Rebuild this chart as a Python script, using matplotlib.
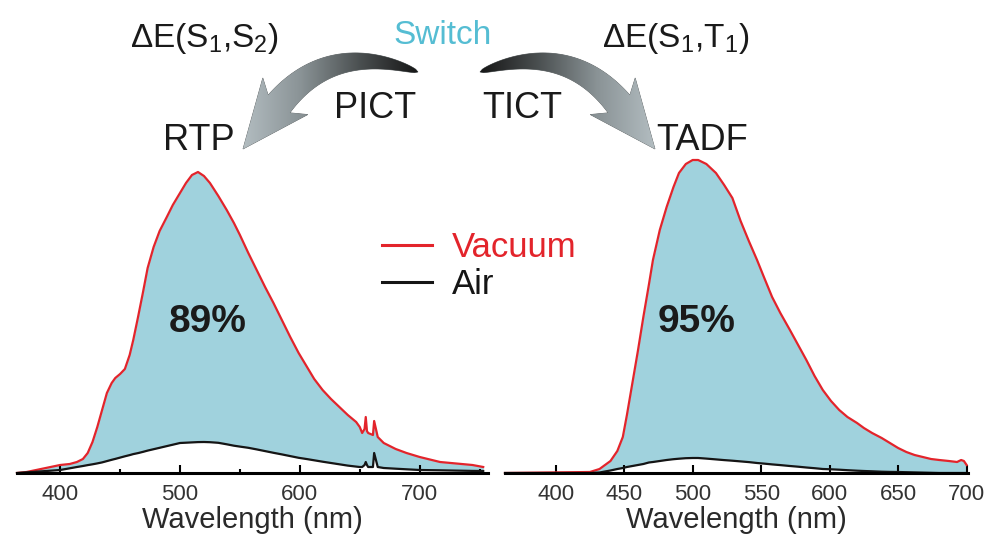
import numpy as np
import matplotlib.pyplot as plt
from matplotlib.patches import Polygon
from matplotlib.colors import LinearSegmentedColormap
from matplotlib.ticker import MultipleLocator

plt.rcParams['font.family'] = ['Liberation Sans', 'DejaVu Sans']
plt.rcParams['mathtext.default'] = 'regular'

# RTP panel (left): wavelength (nm) and intensity (a.u.)
wl_rtp = [364, 372, 380, 392, 400, 408, 414, 419, 423, 427, 431, 435, 439, 443, 446, 450,
          454, 458, 461, 465, 469, 473, 478, 483, 489, 494, 500, 505, 510, 515, 520, 525,
          532, 539, 545, 550, 557, 564, 571, 578, 585, 592, 599, 606, 612, 619, 626, 633,
          640, 647, 650, 652, 654, 655, 656, 657, 661, 662, 665, 670, 680, 689, 700, 717,
          735, 744, 753]
vac_rtp = [0, 1, 3, 6, 8, 9, 11, 14, 20, 31, 46, 63, 80, 90, 95, 99,
           104, 118, 133, 156, 180, 205, 226, 242, 256, 268, 280, 290, 298, 301, 297, 290,
           277, 263, 250, 238, 220, 203, 186, 170, 153, 136, 120, 106, 94, 83, 74, 66,
           58, 51, 46, 40, 44, 56, 42, 40, 38, 52, 36, 30, 24, 20, 16, 11,
           9, 8, 6]
air_rtp = [0, 0.7, 1.3, 2.3, 3, 4.7, 6, 7, 7.9, 8.7, 9.6, 10.6, 11.9, 13.2, 14.1, 15.4,
           16.7, 17.9, 18.9, 19.9, 21.1, 22.4, 23.8, 25.2, 26.9, 28.3, 30, 30.3, 30.6, 30.9, 31, 30.8,
           30.2, 28.7, 27.3, 26.4, 25.2, 23.6, 21.9, 20.2, 18.6, 16.9, 15.2, 13.9, 12.7, 11.3, 10, 8.7,
           7.4, 6.4, 6, 6, 8, 11, 8, 6, 6, 20, 6, 5, 4.3, 3.7, 3, 2.7,
           2.3, 2.1, 2]

# TADF panel (right)
wl_tadf = [363, 425, 432, 440, 445, 449, 452, 456, 460, 464, 468, 471, 476, 481, 486, 490,
           495, 500, 504, 510, 517, 523, 529, 535, 541, 547, 552, 558, 564, 571, 577, 583,
           589, 595, 601, 607, 613, 620, 625, 631, 638, 644, 650, 656, 662, 668, 674, 680,
           687, 693, 696, 698, 700]
vac_tadf = [0, 1, 4, 12, 22, 36, 58, 90, 122, 156, 188, 213, 243, 266, 286, 300,
            309, 313, 313, 309, 300, 288, 275, 252, 232, 213, 196, 176, 160, 143, 128, 113,
            97, 83, 72, 63, 56, 50, 45, 40, 35, 30, 25, 21, 18, 16, 14, 13,
            12, 11, 13, 12, 8]
air_tadf = [0, 0, 0.5, 2.5, 4, 5, 6, 7, 8, 9, 10.5, 11, 12, 13, 13.8, 14.3,
            14.8, 15, 15, 14.4, 13.6, 12.9, 12.3, 11.6, 10.9, 10, 9.4, 8.6, 7.9, 7, 6.3, 5.5,
            4.8, 4, 3.7, 3.3, 2.8, 2.3, 2, 1.7, 1.3, 1.1, 1, 0.8, 0.6, 0.4, 0.2, 0,
            0, 0, 0, 0, 0]

ticks_rtp = [400, 500, 600, 700]
ticks_tadf = [400, 450, 500, 550, 600, 650, 700]

W, H = 991, 537
fig = plt.figure(figsize=(W / 100, H / 100), dpi=100)

red = '#e3242b'
black = '#151515'
fill = '#a0d2dd'


def panel(rect, wl, vac, air, xlim, ticks, minor):
    ax = fig.add_axes(rect)
    ax.fill_between(wl, air, vac, color=fill, lw=0)
    l1, = ax.plot(wl, vac, color=red, lw=1.6, label='Vacuum', clip_on=False)
    l2, = ax.plot(wl, air, color=black, lw=1.6, label='Air', clip_on=False)
    ax.set_xlim(*xlim)
    ax.set_ylim(0, 320)
    for s in ['left', 'right', 'top']:
        ax.spines[s].set_visible(False)
    ax.spines['bottom'].set_linewidth(2.2)
    ax.set_yticks([])
    ax.set_xticks(ticks)
    if minor:
        ax.xaxis.set_minor_locator(MultipleLocator(minor))
    ax.tick_params(axis='x', which='major', direction='in', length=6, width=1.5,
                   labelsize=16, labelcolor='#333333', pad=8)
    ax.tick_params(axis='x', which='minor', direction='in', length=3, width=1.5)
    ax.set_xlabel('Wavelength (nm)', fontsize=21, color='#2a2a2a', labelpad=1)
    ax.patch.set_alpha(0)
    return ax, l1, l2


ax1, l1, l2 = panel([17 / W, 64 / H, 471 / W, 320 / H], wl_rtp, vac_rtp, air_rtp,
                    (364, 757), ticks_rtp, 50)
ax2, _, _ = panel([505 / W, 64 / H, 463 / W, 320 / H], wl_tadf, vac_tadf, air_tadf,
                  (363, 701), ticks_tadf, None)

leg = ax1.legend(handles=[l1, l2], loc='upper left', bbox_to_anchor=(382 / W, 1 - 231 / H),
                 bbox_transform=fig.transFigure, frameon=False, fontsize=25,
                 handlelength=1.45, handletextpad=0.55, labelspacing=0.12,
                 borderpad=0, borderaxespad=0)
for t, c in zip(leg.get_texts(), [red, black]):
    t.set_color(c)
for h in leg.legend_handles:
    h.set_linewidth(2.2)

# overlay in pixel coordinates for the scheme on top
ov = fig.add_axes([0, 0, 1, 1], zorder=5)
ov.axis('off')
ov.patch.set_alpha(0)

cmap = LinearSegmentedColormap.from_list('arr', ['#b4bec2', '#8a9396', '#4a4f50', '#141414'])


def curved_arrow(tail, ctrl, base, tip, body_w, head_hw, flip):
    p0, c, p2, tp = (np.array(v, float) for v in (tail, ctrl, base, tip))
    t = np.linspace(0, 1, 60)[:, None]
    pts = (1 - t) ** 2 * p0 + 2 * (1 - t) * t * c + t ** 2 * p2
    tan = 2 * (1 - t) * (c - p0) + 2 * t * (p2 - c)
    tan /= np.linalg.norm(tan, axis=1, keepdims=True)
    nrm = np.column_stack([-tan[:, 1], tan[:, 0]])
    w = body_w / 2 * np.sqrt(t[:, 0])
    side_a = pts + nrm * w[:, None]
    side_b = pts - nrm * w[:, None]
    back = p2 - tan[-1] * 10
    barb_a = back + nrm[-1] * head_hw
    barb_b = back - nrm[-1] * head_hw
    poly = np.vstack([side_a, barb_a, tp, barb_b, side_b[::-1]])
    patch = Polygon(poly, closed=True, facecolor='#9ea8ab', edgecolor='#5a5f60',
                    lw=0.5, zorder=1.5)
    ov.add_patch(patch)
    grad = np.linspace(0, 1, 256)[None, :]
    if flip:
        grad = grad[:, ::-1]
    x0, x1 = poly[:, 0].min() - 2, poly[:, 0].max() + 2
    im = ov.imshow(grad, cmap=cmap, extent=(x0, x1, 180, 20), aspect='auto', zorder=2)
    im.set_clip_path(patch)


def mirror(p):
    return (898 - p[0], p[1])


la = [(418, 72), (331, 40), (279, 104), (243, 149)]
curved_arrow(*la, 28, 29, False)
curved_arrow(*[mirror(p) for p in la], 28, 29, True)

ov.set_xlim(0, W)
ov.set_ylim(H, 0)

tc = '#1a1a1a'
ov.text(205, 38, r'ΔE(S$_1$,S$_2$)', fontsize=24, color=tc, ha='center', va='center')
ov.text(443, 35, 'Switch', fontsize=24, color='#55bdd3', ha='center', va='center')
ov.text(676, 38, r'ΔE(S$_1$,T$_1$)', fontsize=24, color=tc, ha='center', va='center')
ov.text(375, 108, 'PICT', fontsize=26, color=tc, ha='center', va='center')
ov.text(522, 108, 'TICT', fontsize=26, color=tc, ha='center', va='center')
ov.text(199, 140, 'RTP', fontsize=26, color=tc, ha='center', va='center')
ov.text(702, 140, 'TADF', fontsize=26, color=tc, ha='center', va='center')
ov.text(208, 322, '89%', fontsize=28, fontweight='bold', color=tc, ha='center', va='center')
ov.text(697, 322, '95%', fontsize=28, fontweight='bold', color=tc, ha='center', va='center')

fig.savefig('out.png', dpi=100)
